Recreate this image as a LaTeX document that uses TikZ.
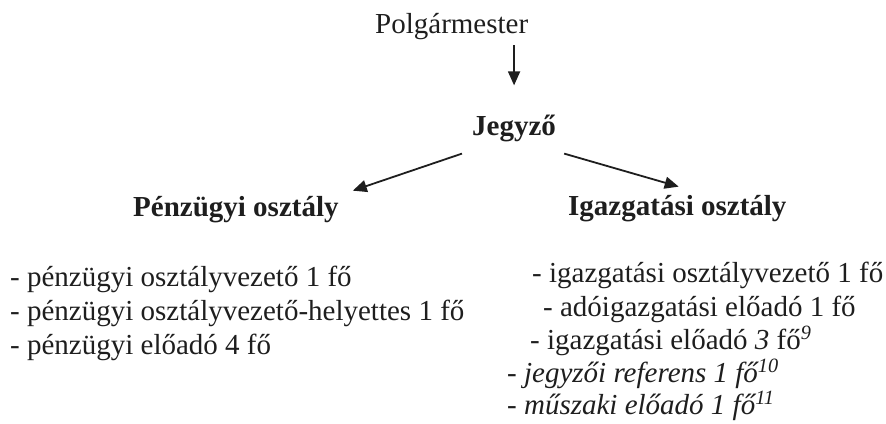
\documentclass[tikz,border=0pt]{standalone}
\usepackage{fontspec}
\setmainfont{Liberation Serif}
\usetikzlibrary{arrows.meta}
\definecolor{ink}{HTML}{1E1E1E}
\tikzset{
  txt/.style={inner sep=0pt, anchor=base west, text=ink, font=\fontsize{29}{34}\selectfont},
  head/.style={txt, font=\fontsize{29}{34}\selectfont\bfseries},
  arr/.style={draw=ink, line width=1.8pt, -{Triangle[length=14pt,width=12pt]}}
}
\begin{document}
\begin{tikzpicture}[x=1pt,y=-1pt]
\useasboundingbox (0,0) rectangle (886,423);
\node[txt] (polg) at (375,33) {Polgármester};
\node[head] (jegy) at (472,135) {Jegyző};
\node[head] (penz) at (133,216) {Pénzügyi osztály};
\node[head] (igaz) at (568,215) {Igazgatási osztály};
% left column
\node[txt] (l1) at (10,286) {- pénzügyi osztályvezető 1 fő};
\node[txt] (l2) at (10,320) {- pénzügyi osztályvezető-helyettes 1 fő};
\node[txt] (l3) at (10,354) {- pénzügyi előadó 4 fő};
% right column
\node[txt] (r1) at (532,282) {- igazgatási osztályvezető 1 fő};
\node[txt] (r2) at (543,316) {- adóigazgatási előadó 1 fő};
\node[txt] (r3) at (530,349) {- igazgatási előadó \textit{3} fő\textsuperscript{\textit{9}}};
\node[txt] (r4) at (507,382) {\textit{- jegyzői referens 1 fő\textsuperscript{10}}};
\node[txt] (r5) at (507,414) {\textit{- műszaki előadó 1 fő\textsuperscript{11}}};
% connectors
\draw[arr] ([yshift=-6pt]polg.south -| jegy.north) -- ([yshift=29pt]jegy.north);
\draw[arr] ([shift={(-10,12)}]jegy.south west) -- ([shift={(14,-5)}]penz.north east);
\draw[arr] ([shift={(8,12)}]jegy.south east) -- ([shift={(-108,-8)}]igaz.north east);
\end{tikzpicture}
\end{document}
